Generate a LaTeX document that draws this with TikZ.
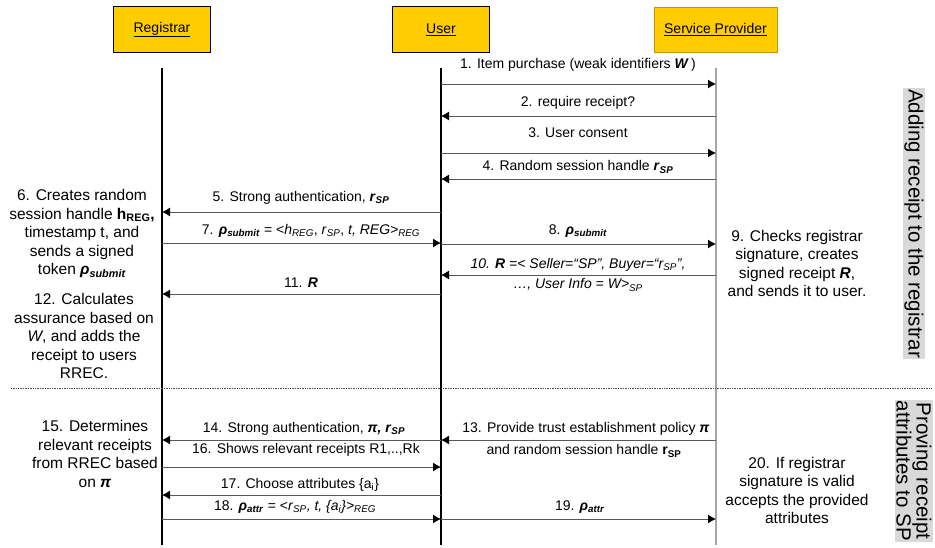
\documentclass[tikz,border=0pt]{standalone}
\usepackage{fontspec}
\setmainfont{Liberation Sans}
\usepackage{tikz}
\usetikzlibrary{arrows.meta}

\definecolor{actorgold}{RGB}{255,204,0}
\definecolor{bandgray}{RGB}{217,217,217}
\newcommand{\dn}[1]{\textsubscript{#1}}
\newcommand{\bi}[1]{\textbf{\textit{#1}}}

\begin{document}
\begin{tikzpicture}[x=1pt,y=-1pt,
  actor/.style={draw=black,line width=1.4pt,fill=actorgold,minimum width=97pt,minimum height=46pt,font=\fontsize{14}{16}\selectfont},
  msg/.style={-{Latex[length=8pt,width=9pt,black]},line width=1pt,black!65},
  lbl/.style={font=\fontsize{14}{16}\selectfont,inner sep=0pt},
  note/.style={font=\fontsize{15.5}{18.5}\selectfont,align=center,inner sep=0pt},
  band/.style={fill=bandgray,rotate=-90,font=\fontsize{20.5}{18}\selectfont,align=center,inner sep=1pt}]

\useasboundingbox (0,0) rectangle (935,547);

% actors
\node[actor] (reg) at (162,29.5) {\underline{Registrar}};
\node[actor] (usr) at (441,29.5) {\underline{User}};
\node[actor,draw=actorgold!75!black,line width=0.6pt,minimum width=123pt,minimum height=45pt] (sp) at (715.5,29.5) {\underline{Service Provider}};

% lifelines
\coordinate (R) at (162,68);
\coordinate (U) at (441,68);
\coordinate (S) at (716,68);
\coordinate (Rend) at (162,545);
\coordinate (Uend) at (441,545);
\coordinate (Send) at (716,545);

\draw[line width=2pt] (R) -- (Rend);
\draw[line width=2pt] (U) -- (Uend);
\draw[line width=1.2pt,black!35] (S) -- (Send);

% adding the receipt
\node[lbl] (m1) at (578,65) {1. Item purchase (weak identifiers \bi{W}\,)};
\draw[msg] (U |- 0,84) -- (S |- 0,84);
\node[lbl] (m2) at (578,103) {2. require receipt?};
\draw[msg] (S |- 0,116) -- (U |- 0,116);
\node[lbl] (m3) at (578,133) {3. User consent};
\draw[msg] (U |- 0,153) -- (S |- 0,153);
\node[lbl] (m4) at (578,167) {4. Random session handle \bi{r}\dn{\bi{SP}}};
\draw[msg] (S |- 0,179) -- (U |- 0,179);

\node[lbl] (m5) at (301,198) {5. Strong authentication, \bi{r}\dn{\bi{SP}}};
\draw[msg] (U |- 0,212) -- (R |- 0,212);
\node[lbl] (m7) at (311,231) {7. \bi{ρ}\dn{\bi{submit}} = <\textit{h}\dn{\textit{REG}}, \textit{r}\dn{\textit{SP}}, \textit{t, REG>}\dn{\textit{REG}}};
\draw[msg] (R |- 0,243) -- (U |- 0,243);
\node[lbl] (m8) at (578,231) {8. \bi{ρ}\dn{\bi{submit}}};
\draw[msg] (U |- 0,244) -- (S |- 0,244);
\node[lbl] (m10a) at (578,265) {\textit{10. \textbf{R} =< Seller=“SP”, Buyer=“r\dn{SP}”,}};
\node[lbl] (m10b) at (578,285) {\textit{…, User Info = W>\dn{SP}}};
\draw[msg] (S |- 0,275) -- (U |- 0,275);
\node[lbl] (m11) at (301,283) {11. \bi{R}};
\draw[msg] (U |- 0,294) -- (R |- 0,294);

\node[note] (n6) at (82,233.5) {6. Creates random\\session handle \textbf{h\dn{REG},}\\timestamp t, and\\sends a signed\\token \bi{ρ}\dn{\bi{submit}}};
\node[note] (n12) at (84,336) {12. Calculates\\assurance based on\\\textit{W}, and adds the\\receipt to users\\RREC.};
\node[note] (n9) at (797,263.5) {9. Checks registrar\\signature, creates\\signed receipt \bi{R},\\and sends it to user.};

% phase separator
\coordinate (sepL) at (11,388);
\coordinate (sepR) at (931,388);
\draw[densely dotted,line width=0.7pt,black!70] (sepL) -- (sepR);

% proving attributes
\node[lbl] (m13a) at (586,429) {13. Provide trust establishment policy \bi{π}};
\node[lbl] (m13b) at (584,451) {and random session handle \textbf{r\dn{SP}}};
\draw[msg] (S |- 0,440) -- (U |- 0,440);
\node[lbl] (m14) at (304,429) {14. Strong authentication, \bi{π, r}\dn{\bi{SP}}};
\draw[msg] (U |- 0,440) -- (R |- 0,440);
\node[lbl] (m16) at (306,450) {16. Shows relevant receipts R1,..,Rk};
\draw[msg] (R |- 0,467) -- (U |- 0,467);
\node[lbl] (m17) at (300,485) {17. Choose attributes \{a\dn{i}\}};
\draw[msg] (U |- 0,495) -- (R |- 0,495);
\node[lbl] (m18) at (295,507) {18. \bi{ρ}\dn{\bi{attr}} = <\textit{r}\dn{\textit{SP}}\textit{, t, \{a\dn{i}\}>}\dn{\textit{REG}}};
\draw[msg] (R |- 0,519) -- (U |- 0,519);
\node[lbl] (m19) at (580,507) {19. \bi{ρ}\dn{\bi{attr}}};
\draw[msg] (U |- 0,519) -- (S |- 0,519);

\node[note] (n15) at (95,454) {15. Determines\\relevant receipts\\from RREC based\\on \bi{π}};
\node[note] (n20) at (797,490.5) {20. If registrar\\signature is valid\\accepts the provided\\attributes};

% phase labels
\node[band] (ph1) at (914,223.5) {Adding receipt to the registrar};
\node[band] (ph2) at (914,471) {Proving receipt\\attributes to SP};

\end{tikzpicture}
\end{document}
